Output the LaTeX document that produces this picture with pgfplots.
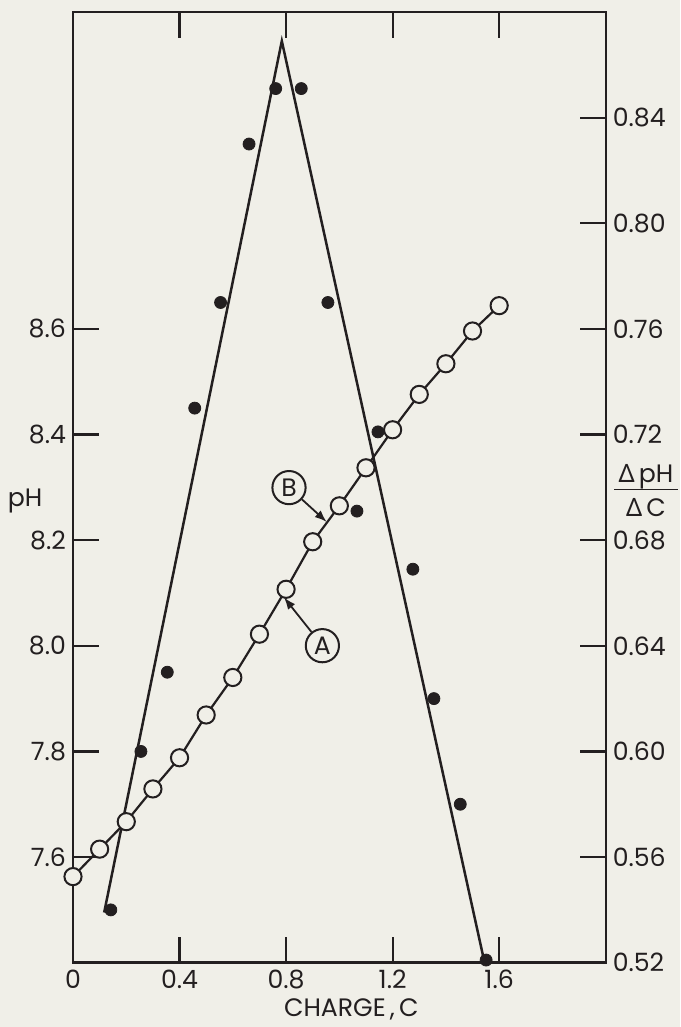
\documentclass[border=0pt]{standalone}
\usepackage{fontspec}
\setmainfont{Poppins}
\newfontfamily\gr{Noto Sans}
\usepackage{pgfplots}
\usepackage{pgfplotstable}
\pgfplotsset{compat=1.18}
\usetikzlibrary{arrows.meta}
\definecolor{ink}{RGB}{35,31,32}
\definecolor{paper}{RGB}{240,239,232}

\pgfplotstableread{
C pH
0 7.563
0.1 7.615
0.2 7.667
0.3 7.729
0.4 7.788
0.5 7.869
0.6 7.940
0.7 8.022
0.8 8.107
0.9 8.197
1.0 8.265
1.1 8.337
1.2 8.409
1.3 8.476
1.4 8.534
1.5 8.596
1.6 8.644
}\phdata

\pgfplotstableread{
C r
0.142 0.540
0.255 0.600
0.354 0.630
0.457 0.730
0.554 0.770
0.661 0.830
0.761 0.851
0.857 0.851
0.957 0.770
1.066 0.691
1.145 0.721
1.276 0.669
1.355 0.620
1.454 0.580
1.551 0.521
}\dotdata

\pgfplotstableread{
C r
0.117 0.539
0.784 0.869
1.543 0.521
}\tridata

\pgfplotsset{common/.style={
  at={(0,0)}, anchor=south west,
  scale only axis, width=266.35pt, height=475.35pt,
  xmin=0, xmax=2,
  tick align=inside, major tick length=13pt,
  axis line style={ink, line width=1.2pt},
  tick style={ink, line width=1.1pt},
  clip=false,
  ticklabel style={font=\fontsize{12.6}{14}\selectfont, text=ink},
  /pgf/number format/assume math mode=true,
}}

\begin{document}
\begin{tikzpicture}[font=\fontsize{12.6}{14}\selectfont]
\fill[paper] (-36.5pt,-32.15pt) rectangle (303.5pt,481.35pt);

\begin{axis}[common,
  ymin=0.52, ymax=0.88,
  axis x line=none, axis y line*=right,
  ytick={0.52,0.56,0.60,0.64,0.68,0.72,0.76,0.80,0.84},
  yticklabel style={/pgf/number format/fixed, /pgf/number format/precision=2, /pgf/number format/fixed zerofill},
]
\addplot[ink, line width=1.25pt, mark=none] table[x=C, y=r] {\tridata};
\addplot[only marks, mark=*, mark size=3pt, draw=ink, fill=ink] table[x=C, y=r] {\dotdata};
\node[text=ink] at (axis cs:2.151,0.6975) {\begin{tabular}{@{\,}c@{\,}}{\gr Δ}\,pH\\[-1pt]\hline\rule{0pt}{13pt}{\gr Δ}\,C\end{tabular}};
\end{axis}

\begin{axis}[common,
  ymin=7.4, ymax=9.2,
  xtick={0,0.4,0.8,1.2,1.6},
  ytick={7.6,7.8,8.0,8.2,8.4,8.6},
  xtick pos=both, ytick pos=left,
  xticklabel style={/pgf/number format/fixed, /pgf/number format/precision=1},
  yticklabel style={/pgf/number format/fixed, /pgf/number format/precision=1, /pgf/number format/fixed zerofill},
]
\addplot[ink, line width=1.1pt, mark=*, mark size=4.3pt, mark options={draw=ink, fill=paper, line width=1pt}] table[x=C, y=pH] {\phdata};
\node[text=ink] at (axis cs:-0.18,8.274) {pH};
\node[text=ink] at (axis cs:1.045,7.4) [yshift=-23.5pt] {CHARGE\,,\,C};
\node[circle, draw=ink, line width=1pt, minimum size=16.6pt, inner sep=0pt, text=ink] (B) at (axis cs:0.811,8.2995) {B};
\node[circle, draw=ink, line width=1pt, minimum size=16.6pt, inner sep=0pt, text=ink] (A) at (axis cs:0.9363,8.0002) {A};
\draw[ink, line width=0.9pt, -{Latex[length=6pt,width=4.5pt]}] (B) -- (axis cs:0.9524,8.2346);
\draw[ink, line width=0.9pt, -{Latex[length=6pt,width=4.5pt]}] (A) -- (axis cs:0.7923,8.0915);
\end{axis}

\pgfresetboundingbox
\path[use as bounding box] (-36.5pt,-32.15pt) rectangle (303.5pt,481.35pt);
\end{tikzpicture}
\end{document}
